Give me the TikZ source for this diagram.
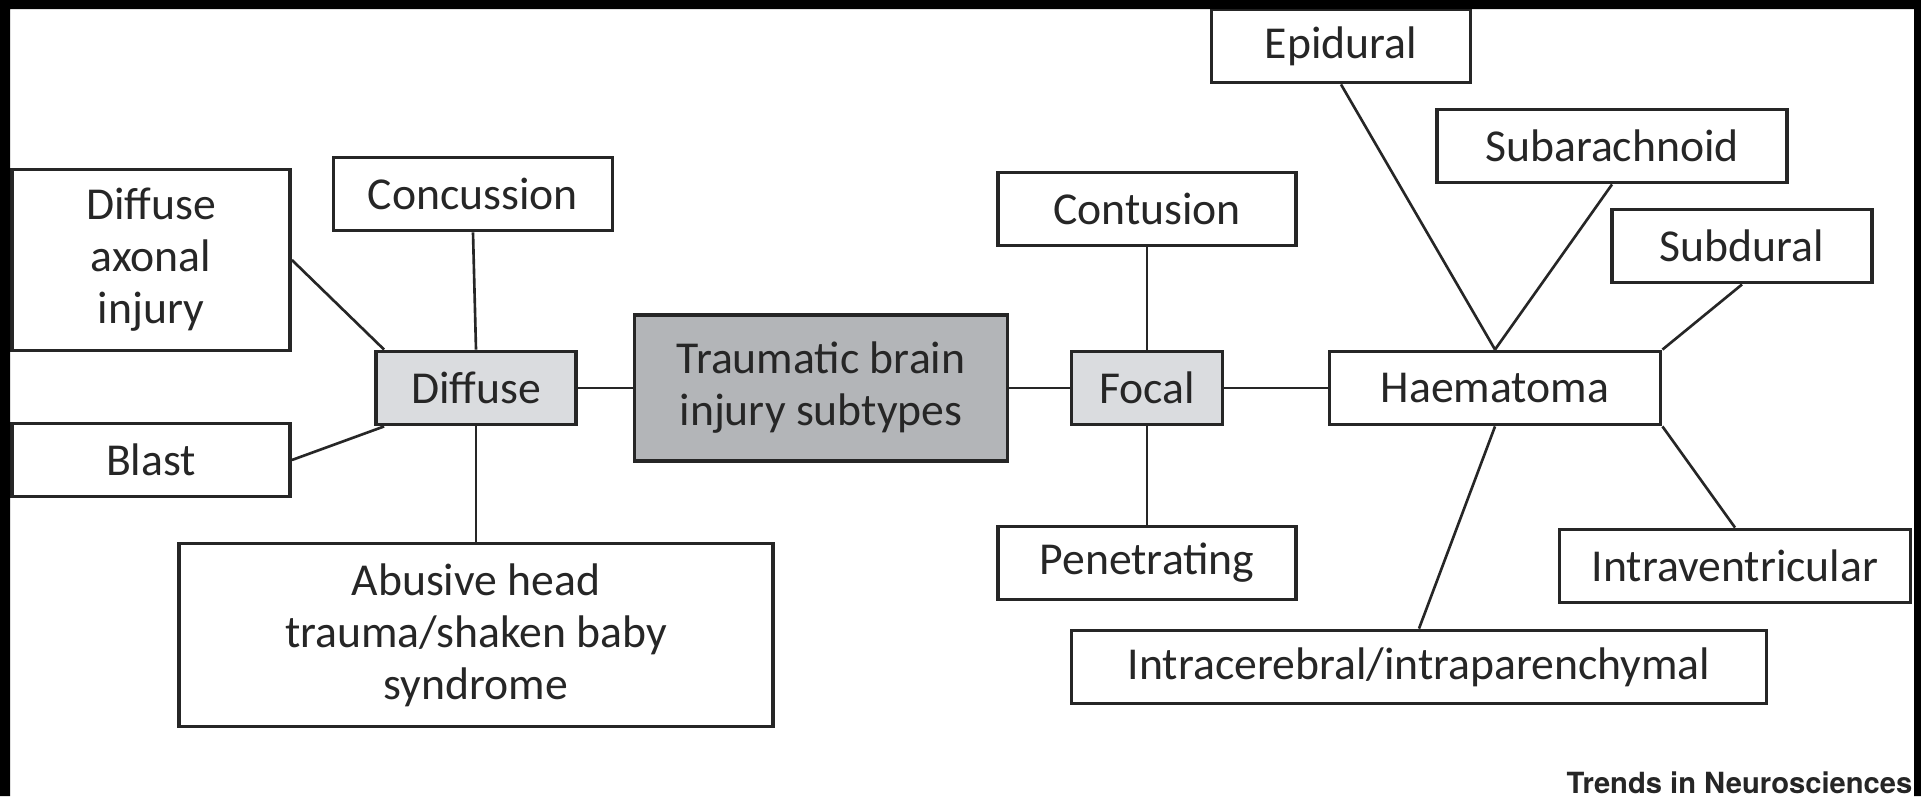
\documentclass[tikz,border=0pt]{standalone}
\usepackage{fontspec}
\setmainfont{Carlito}
\newfontfamily\jnlfont{TeX Gyre Heros}
\usepackage{tikz}
\usetikzlibrary{calc}
\definecolor{ink}{HTML}{262626}
\definecolor{hub}{HTML}{B3B5B8}
\definecolor{mid}{HTML}{DADCDF}
\tikzset{
  box/.style={draw=ink,line width=1.1pt,fill=white,inner sep=1pt,minimum height=7.3mm,align=center,text=ink,font=\fontsize{13}{14.8}\selectfont},
  gbox/.style={box,fill=mid},
  hbox/.style={box,fill=hub},
  ln/.style={draw=ink,line width=0.75pt},
}

\begin{document}
\begin{tikzpicture}[x=0.1mm,y=-0.1mm]
\useasboundingbox (0,0) rectangle (1921,796);
\fill[white] (0,0) rectangle (1921,796);
% centre and the two classes
\node[hbox,minimum width=37.3mm,minimum height=14.6mm] (tbi) at (821,388) {Traumatic brain\\injury subtypes};
\node[gbox,minimum width=20mm] (diff) at (476,388) {Diffuse};
\node[gbox,minimum width=15.1mm] (focal) at (1147,388) {Focal};
% diffuse side
\node[box,minimum width=27.8mm,minimum height=18.1mm] (dai) at (151,260) {Diffuse\\axonal\\injury};
\node[box,minimum width=27.9mm] (conc) at (473,194) {Concussion};
\node[box,minimum width=27.8mm] (blast) at (151,460) {Blast};
\node[box,minimum width=59.4mm,minimum height=18.3mm] (abuse) at (476,635) {Abusive head\\trauma/shaken baby\\syndrome};
% focal side
\node[box,minimum width=29.8mm] (cont) at (1147,209) {Contusion};
\node[box,minimum width=29.8mm] (pen) at (1147,563) {Penetrating};
\node[box,minimum width=33.1mm] (haem) at (1495,388) {Haematoma};
\node[box,minimum width=25.9mm] (epi) at (1341,46) {Epidural};
\node[box,minimum width=35mm] (subar) at (1612,146) {Subarachnoid};
\node[box,minimum width=26mm] (subd) at (1742,246) {Subdural};
\node[box,minimum width=35.1mm] (intrav) at (1735,566) {Intraventricular};
\node[box,minimum width=69.5mm] (intrac) at (1419,667) {Intracerebral/intraparenchymal};
\foreach \u/\v in {diff.east/tbi.west,tbi.east/focal.west,focal.east/haem.west,conc.south/diff.north,diff.south/abuse.north,cont.south/focal.north,focal.south/pen.north,epi.south/haem.north,subar.south/haem.north,subd.south/haem.north east,haem.south east/intrav.north,haem.south/intrac.north} \draw[ln] (\u)--(\v);
\draw[ln] (dai.east)--($(diff.north west)+(10,0)$);
\draw[ln] (blast.east)--($(diff.south west)+(10,0)$);
\node[anchor=base west,inner sep=0,text=black!85,font=\jnlfont\bfseries\fontsize{8.3}{10}\selectfont] (src) at (1566,793) {Trends in Neurosciences};
% frame
\fill[black] (0,0) rectangle (1921,9) (0,0) rectangle (10,796) (1914,0) rectangle (1921,796);
\end{tikzpicture}
\end{document}
